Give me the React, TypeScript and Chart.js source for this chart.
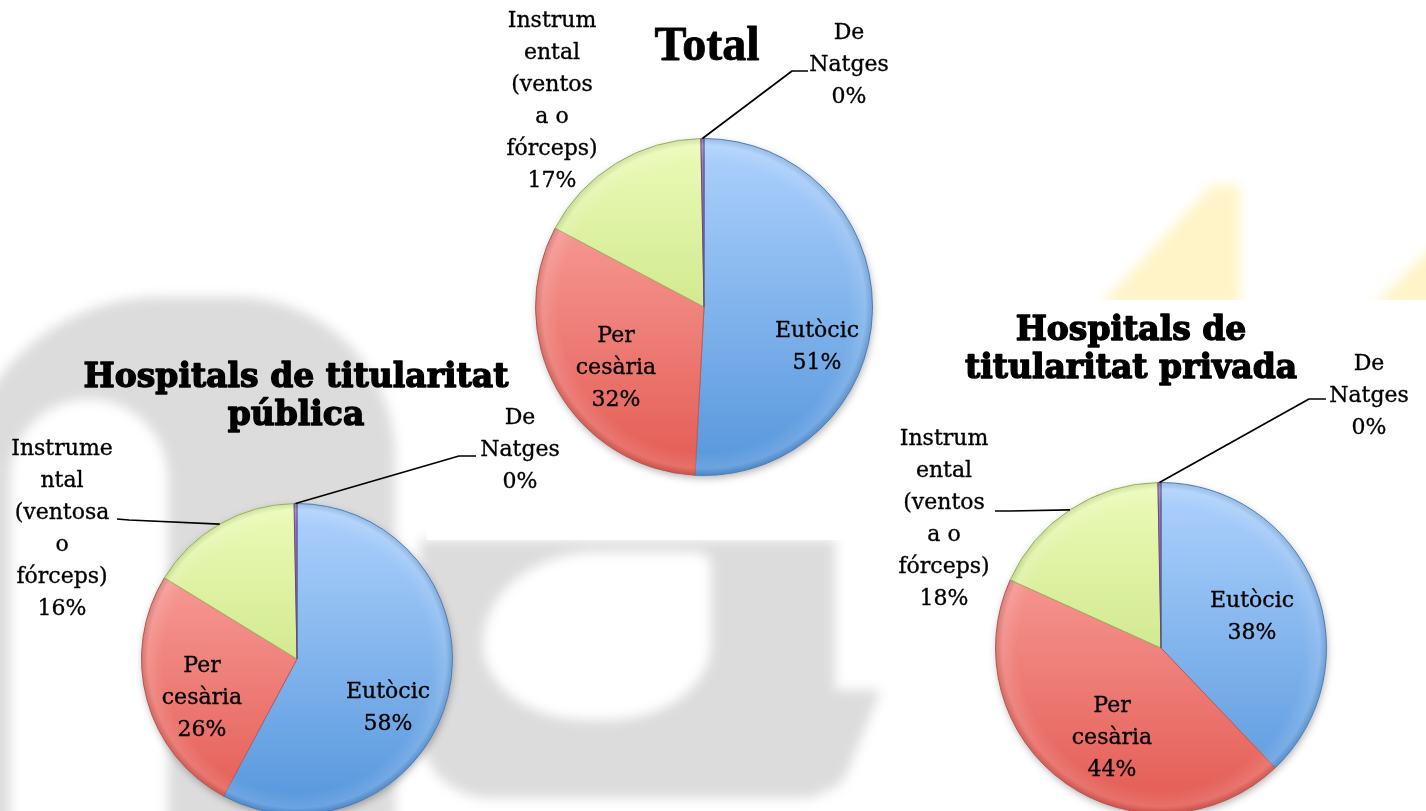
import React, { useEffect, useRef } from "react";
import { Chart, registerables } from "chart.js";

Chart.register(...registerables);

// ---------------- DATA ----------------
const categories = ["Eutòcic", "Per cesària", "Instrumental (ventosa o fórceps)", "De Natges"];
const totalValues = [51, 32, 17, 0.3];
const publicValues = [58, 26, 16, 0.3];
const privateValues = [38, 44, 18, 0.3];

const totalLabelLines = [["Eutòcic"], ["Per", "cesària"], ["Instrum", "ental", "(ventos", "a o", "fórceps)"], ["De", "Natges"]];
const publicLabelLines = [["Eutòcic"], ["Per", "cesària"], ["Instrume", "ntal", "(ventosa", "o", "fórceps)"], ["De", "Natges"]];
const privateLabelLines = [["Eutòcic"], ["Per", "cesària"], ["Instrum", "ental", "(ventos", "a o", "fórceps)"], ["De", "Natges"]];

const totalTitle = ["Total"];
const publicTitle = ["Hospitals de titularitat", "pública"];
const privateTitle = ["Hospitals de", "titularitat privada"];

// ---------------- STYLE ----------------
const W = 1426;
const H = 811;
const CH = 870;
const sliceTop = ["#aed2fd", "#fdaca8", "#ecfbb8", "#9a82bd"];
const sliceBottom = ["#5596dc", "#e35b53", "#b8d86a", "#6a4f8f"];
const sliceBorder = ["#5283c0", "#c05a55", "#9cbb5c", "#5f4a80"];
const labelFont = "22px 'DejaVu Serif'";
const labelLH = 32;

type Layout = {
  cx: number;
  cy: number;
  r: number;
  labelOffsets: [number, number][];
  leaders: ({ elbow: [number, number]; end: [number, number] } | null)[];
  titleOffset: [number, number];
  titleFont: string;
  titleLH: number;
  titleStroke: number;
};

const totalLayout: Layout = {
  cx: 704, cy: 307, r: 169,
  labelOffsets: [[113, 40], [-88, 61], [-152, -206], [145, -242]],
  leaders: [null, null, null, { elbow: [88, -236], end: [104, -236] }],
  titleOffset: [3, -259],
  titleFont: "bold 48px 'Liberation Serif'",
  titleLH: 40,
  titleStroke: 0.8,
};
const publicLayout: Layout = {
  cx: 297, cy: 659, r: 156,
  labelOffsets: [[91, 49], [-95, 39], [-235, -130], [223, -209]],
  leaders: [null, null, { elbow: [-168, -139], end: [-180, -140] }, { elbow: [162, -203], end: [179, -203] }],
  titleOffset: [-1, -262],
  titleFont: "bold 33px 'DejaVu Serif'",
  titleLH: 38,
  titleStroke: 1.4,
};
const privateLayout: Layout = {
  cx: 1161, cy: 648, r: 166,
  labelOffsets: [[91, -31], [-49, 90], [-217, -129], [208, -252]],
  leaders: [null, null, { elbow: [-151, -137], end: [-166, -137] }, { elbow: [148, -249], end: [165, -249] }],
  titleOffset: [-30, -298],
  titleFont: "bold 33px 'DejaVu Serif'",
  titleLH: 38,
  titleStroke: 1.4,
};

const annotPlugin = {
  id: "pieAnnot",
  beforeDatasetsDraw(chart: any) {
    const meta = chart.getDatasetMeta(0);
    const a = meta.data[0];
    if (!a) return;
    const { x, y, outerRadius } = a.getProps(["x", "y", "outerRadius"], true);
    const ctx = chart.ctx;
    ctx.save();
    ctx.shadowColor = "rgba(0,0,0,0.35)";
    ctx.shadowBlur = 8;
    ctx.shadowOffsetX = 1;
    ctx.shadowOffsetY = 3;
    ctx.fillStyle = "#ffffff";
    ctx.beginPath();
    ctx.arc(x, y, outerRadius - 1, 0, Math.PI * 2);
    ctx.fill();
    ctx.restore();
  },
  afterDatasetsDraw(chart: any) {
    const cfg = chart.options.plugins.pieAnnot;
    const layout: Layout = cfg.layout;
    const lines: string[][] = cfg.lines;
    const title: string[] = cfg.title;
    const ctx = chart.ctx;
    const meta = chart.getDatasetMeta(0);
    const values: number[] = chart.data.datasets[0].data;
    const sum = values.reduce((s, v) => s + v, 0);

    // bevel overlay
    const a0 = meta.data[0];
    const { x: cx, y: cy, outerRadius: R } = a0.getProps(["x", "y", "outerRadius"], true);
    ctx.save();
    const rg = ctx.createRadialGradient(cx, cy, R * 0.86, cx, cy, R);
    rg.addColorStop(0, "rgba(255,255,255,0)");
    rg.addColorStop(0.7, "rgba(255,255,255,0.12)");
    rg.addColorStop(1, "rgba(0,0,0,0.10)");
    ctx.fillStyle = rg;
    ctx.beginPath();
    ctx.arc(cx, cy, R, 0, Math.PI * 2);
    ctx.fill();
    ctx.restore();

    ctx.save();
    ctx.fillStyle = "#000";
    ctx.strokeStyle = "#000";
    ctx.textAlign = "center";
    ctx.textBaseline = "middle";
    ctx.lineJoin = "round";
    meta.data.forEach((arc: any, i: number) => {
      const p = arc.getProps(["x", "y", "startAngle", "endAngle", "outerRadius"], true);
      const pct = Math.round((values[i] / sum) * 100) + "%";
      const block = [...lines[i], pct];
      const [dx, dy] = layout.labelOffsets[i];
      const bx = p.x + dx;
      const by = p.y + dy;
      ctx.font = labelFont;
      ctx.lineWidth = 0.35;
      block.forEach((t, k) => {
        const ty = by + (k - (block.length - 1) / 2) * labelLH;
        ctx.fillText(t, bx, ty);
        ctx.strokeText(t, bx, ty);
      });
      const ld = layout.leaders[i];
      if (ld) {
        const mid = (p.startAngle + p.endAngle) / 2;
        const ax = p.x + Math.cos(mid) * p.outerRadius;
        const ay = p.y + Math.sin(mid) * p.outerRadius;
        ctx.lineWidth = 1.7;
        ctx.beginPath();
        ctx.moveTo(ax, ay);
        ctx.lineTo(p.x + ld.elbow[0], p.y + ld.elbow[1]);
        ctx.lineTo(p.x + ld.end[0], p.y + ld.end[1]);
        ctx.stroke();
      }
    });
    // title
    ctx.font = layout.titleFont;
    ctx.lineWidth = layout.titleStroke;
    const tx = cx + layout.titleOffset[0];
    const ty = cy + layout.titleOffset[1];
    title.forEach((t, k) => {
      const yy = ty + (k - (title.length - 1) / 2) * layout.titleLH;
      ctx.fillText(t, tx, yy);
      ctx.strokeText(t, tx, yy);
    });
    ctx.restore();
  },
};

function PieCanvas({ values, lines, title, layout }: { values: number[]; lines: string[][]; title: string[]; layout: Layout }) {
  const ref = useRef<HTMLCanvasElement | null>(null);
  useEffect(() => {
    if (!ref.current) return;
    const { cx, cy, r } = layout;
    const chart = new Chart(ref.current, {
      type: "pie",
      data: {
        labels: categories,
        datasets: [
          {
            data: values,
            backgroundColor: (c: any) => {
              const ch = c.chart;
              const area = ch.chartArea;
              const i = c.dataIndex;
              if (!area) return sliceBottom[i];
              const g = ch.ctx.createLinearGradient(0, area.top, 0, area.bottom);
              g.addColorStop(0, sliceTop[i]);
              g.addColorStop(1, sliceBottom[i]);
              return g;
            },
            borderColor: sliceBorder,
            borderWidth: 1,
          },
        ],
      },
      options: {
        responsive: false,
        animation: false,
        events: [],
        layout: {
          padding: { left: cx - r, top: cy - r, right: W - (cx + r), bottom: CH - (cy + r) },
        },
        plugins: {
          legend: { display: false },
          tooltip: { enabled: false },
          title: { display: false },
          pieAnnot: { layout, lines, title },
        } as any,
      },
      plugins: [annotPlugin],
    });
    return () => chart.destroy();
  }, []);
  return <canvas ref={ref} width={W} height={CH} style={{ position: "absolute", left: 0, top: 0, width: W, height: CH }} />;
}

const gray = "#dcdcdc";
const yellow = "#fff4c8";

export default function App() {
  return (
    <div style={{ position: "fixed", left: 0, top: 0, width: W, height: H, overflow: "hidden", background: "#fff" }}>
      <div style={{ position: "absolute", left: 0, top: 0, width: W, height: H, filter: "blur(6px)" }}>
        <div style={{ position: "absolute", left: -40, top: 297, width: 435, height: 600, background: gray, borderRadius: "200px 160px 0 0" }} />
        <div style={{ position: "absolute", left: 10, top: 399, width: 158, height: 500, background: "#fff", borderRadius: "79px 79px 0 0" }} />
        <div style={{ position: "absolute", left: 420, top: 540, width: 415, height: 258, background: gray, borderRadius: "0 0 30px 70px" }} />
        <div style={{ position: "absolute", left: 483, top: 552, width: 228, height: 168, background: "#fff", borderRadius: "55% 8% 50% 50% / 60% 8% 50% 50%" }} />
        <div style={{ position: "absolute", left: 790, top: 690, width: 70, height: 102, background: gray, transform: "skewX(-22deg)", borderRadius: "0 0 20px 0" }} />
        <div style={{ position: "absolute", left: 1100, top: 185, width: 140, height: 120, background: yellow, clipPath: "polygon(0 100%, 80% 0, 100% 0, 100% 100%)" }} />
        <div style={{ position: "absolute", left: 1373, top: 250, width: 70, height: 55, background: yellow, clipPath: "polygon(0 100%, 80% 0, 100% 0, 100% 100%)" }} />
      </div>
      <div style={{ position: "absolute", left: 427, top: 0, width: 493, height: 540, background: "#fff" }} />
      <div style={{ position: "absolute", left: 920, top: 300, width: 506, height: 511, background: "#fff" }} />
      <PieCanvas values={publicValues} lines={publicLabelLines} title={publicTitle} layout={publicLayout} />
      <PieCanvas values={totalValues} lines={totalLabelLines} title={totalTitle} layout={totalLayout} />
      <PieCanvas values={privateValues} lines={privateLabelLines} title={privateTitle} layout={privateLayout} />
    </div>
  );
}
